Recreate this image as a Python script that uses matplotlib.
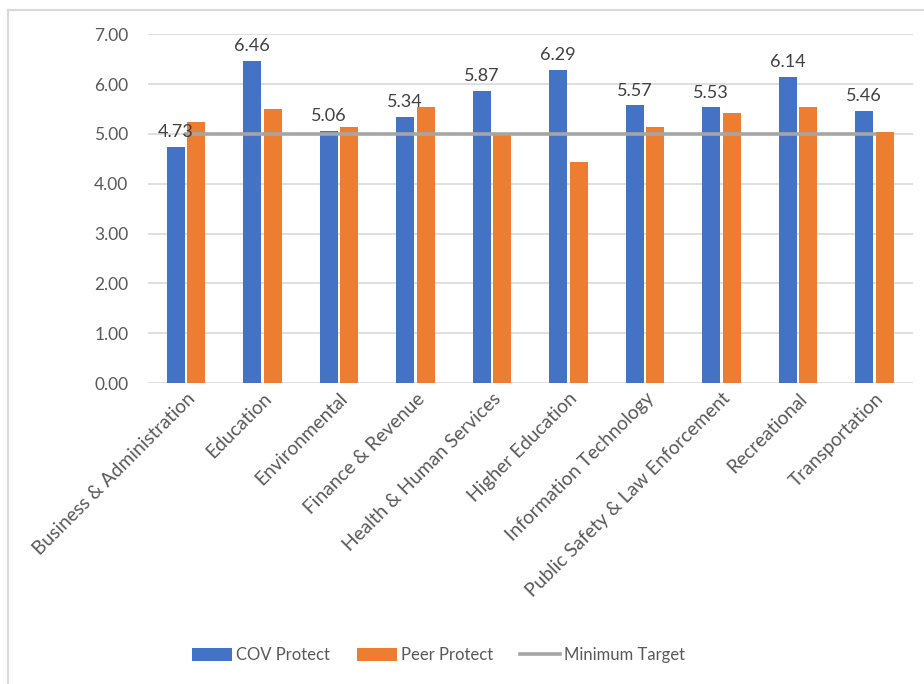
import numpy as np
import matplotlib.pyplot as plt
from matplotlib.lines import Line2D

plt.rcParams['font.family'] = ['Lato', 'DejaVu Sans']

categories = ["Business & Administration", "Education", "Environmental",
              "Finance & Revenue", "Health & Human Services", "Higher Education",
              "Information Technology", "Public Safety & Law Enforcement",
              "Recreational", "Transportation"]
cov_protect = [4.73, 6.46, 5.06, 5.34, 5.87, 6.29, 5.57, 5.53, 6.14, 5.46]
peer_protect = [5.24, 5.49, 5.14, 5.53, 4.97, 4.43, 5.14, 5.42, 5.53, 5.03]
minimum_target = [5.0] * len(categories)

blue = '#4472C4'
orange = '#ED7D31'
gray = '#A5A5A5'
text_col = '#595959'

fig = plt.figure(figsize=(9.24, 6.84), dpi=100)
ax = fig.add_axes([0.160, 0.440, 0.828, 0.510])

x = np.arange(len(categories))
w = 0.235
off = 0.135
b1 = ax.bar(x - off, cov_protect, w, color=blue, label='COV Protect', zorder=2)
b2 = ax.bar(x + off, peer_protect, w, color=orange, label='Peer Protect', zorder=2)
ln, = ax.plot(x, minimum_target, color=gray, lw=2.6, label='Minimum Target', zorder=3)

# value labels over the COV bars
for xi, v in zip(x - off, cov_protect):
    ax.annotate(f"{v:.2f}", (xi, v), xytext=(0, 5), textcoords='offset points',
                ha='center', va='bottom', fontsize=13, color='#404040', zorder=4)

ax.set_xlim(-0.5, len(categories) - 0.5)
ax.set_ylim(0, 7)
ax.set_yticks(np.arange(0, 8, 1))
ax.set_yticklabels([f"{t:.2f}" for t in range(8)])
ax.yaxis.grid(True, color='#D9D9D9', lw=1.2, zorder=0)
ax.set_axisbelow(True)
for s in ax.spines.values():
    s.set_visible(False)
ax.tick_params(axis='y', length=0, pad=14, labelsize=12.5, labelcolor=text_col)
ax.tick_params(axis='x', length=0, pad=5, labelsize=13.8, labelcolor=text_col)
ax.set_xticks(x)
ax.set_xticklabels(categories, rotation=45, ha='right', va='top', rotation_mode='anchor')

fig.legend(handles=[b1, b2, ln], loc='center', bbox_to_anchor=(0.4746, 0.0424),
           ncol=3, frameon=False, fontsize=12, handlelength=2.4, handleheight=0.8,
           handletextpad=0.25, columnspacing=1.6, labelcolor=text_col)

# thin frame on the top and left edges
fig.add_artist(Line2D([0.009, 0.009], [0, 0.985], color='#D9D9D9', lw=1.5,
                      transform=fig.transFigure))
fig.add_artist(Line2D([0.009, 1.0], [0.985, 0.985], color='#D9D9D9', lw=1.5,
                      transform=fig.transFigure))

fig.savefig('out.png', dpi=100, facecolor='white')
